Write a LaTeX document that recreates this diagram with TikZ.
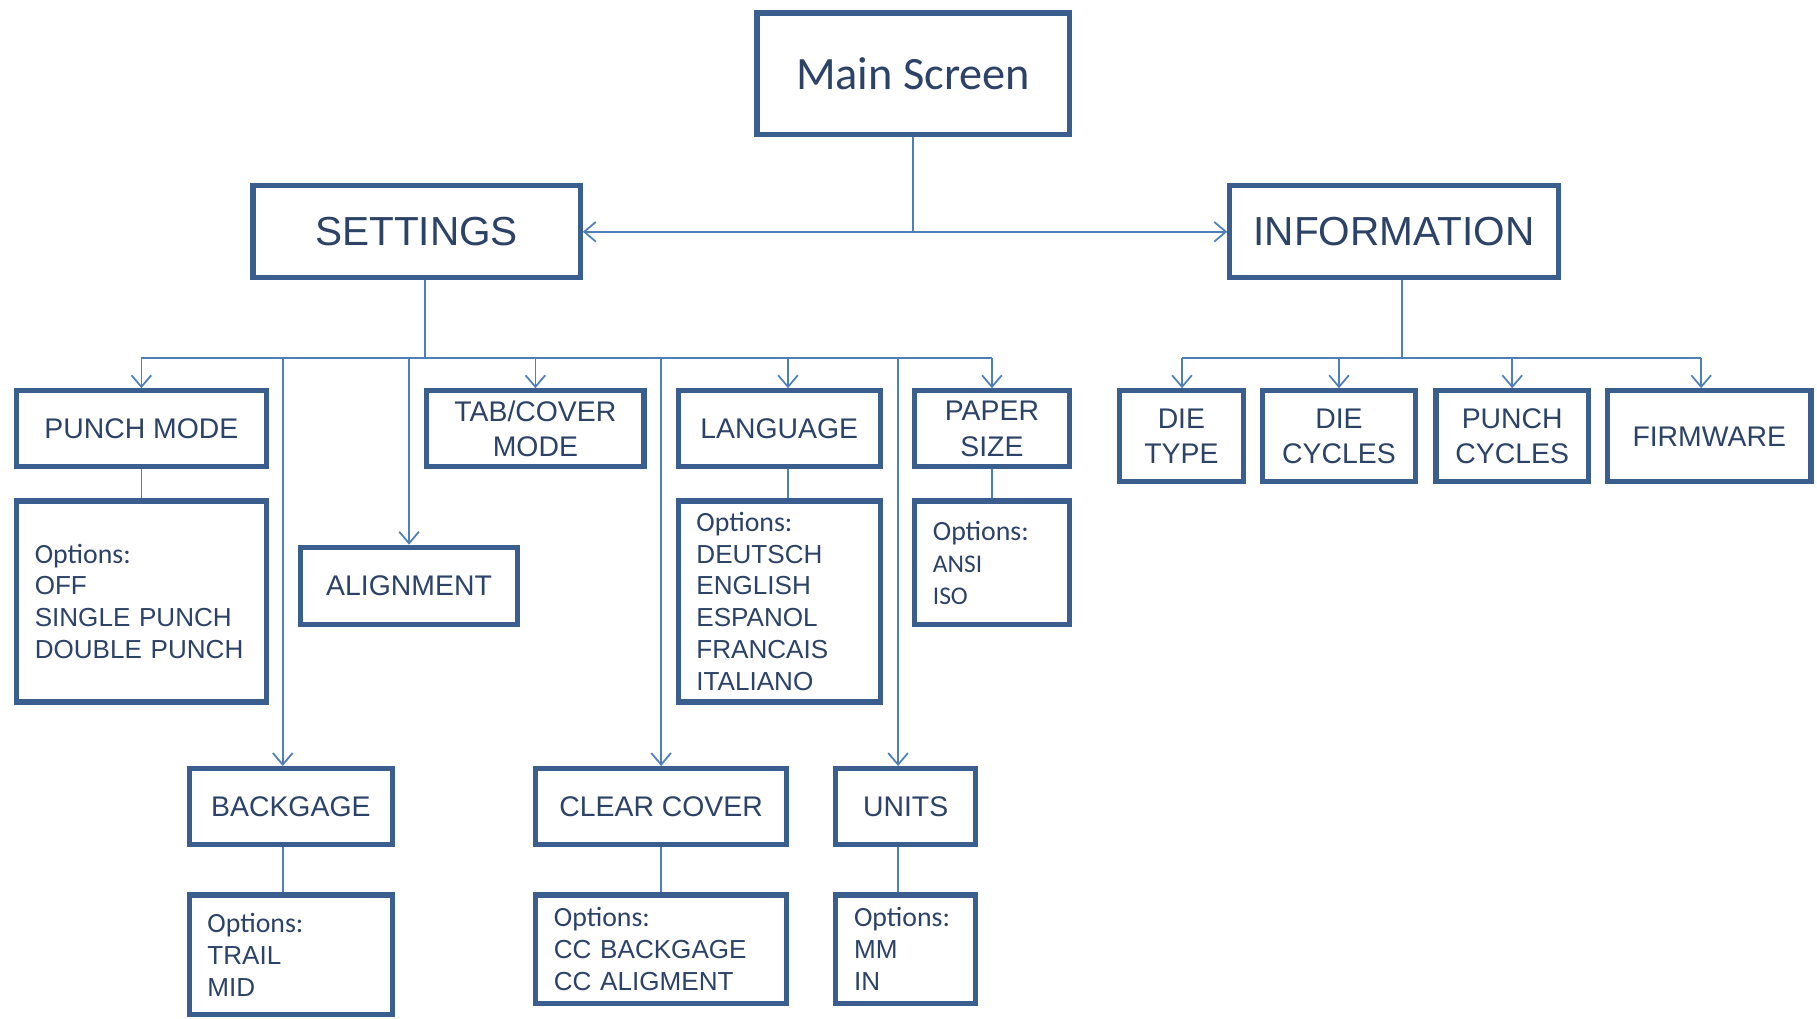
\documentclass[tikz,border=0pt]{standalone}
\usepackage{fontspec}
\setmainfont{Liberation Sans}
\newfontfamily\calib{Carlito}
\usetikzlibrary{arrows.meta}
\definecolor{boxc}{HTML}{3A5F8E}
\definecolor{linec}{HTML}{4F7FB8}
\definecolor{txtc}{HTML}{2C4266}
\tikzset{
  box/.style={draw=boxc, line width=4.5pt, text=txtc, inner sep=0pt, align=center,
    font=\fontsize{24.5}{30.5}\selectfont},
  bigbox/.style={box, font=\fontsize{35}{40}\selectfont},
  optbox/.style={box, align=left, inner xsep=15.75pt, font=\fontsize{22.5}{27.5}\selectfont},
  conn/.style={draw=linec, line width=1.5pt},
  arr/.style={conn, -{Straight Barb[length=10pt,width=17pt]}},
  dblarr/.style={conn, {Straight Barb[length=10pt,width=17pt]}-{Straight Barb[length=10pt,width=17pt]}},
}
\newcommand{\opt}{{\calib\fontsize{24}{27.5}\selectfont Options:}}
\begin{document}
\begin{tikzpicture}[x=1pt,y=-1pt]
\fill[white] (0,0) rectangle (1568,879);
\useasboundingbox (0,0) rectangle (1568,879);

% top level
\node[box, minimum width=269.5pt, minimum height=104.5pt, font=\calib\fontsize{40}{44}\selectfont] (main) at (788,63.5) {Main Screen};
\node[bigbox, minimum width=282.5pt, minimum height=79.5pt] (settings) at (359.5,200) {SETTINGS};
\node[bigbox, minimum width=283.5pt, minimum height=79.5pt] (info) at (1203,200) {INFORMATION};

% settings row 1
\node[box, minimum width=215.5pt, minimum height=65.5pt] (punch) at (122,370) {PUNCH MODE};
\node[box, minimum width=187.5pt, minimum height=65.5pt] (tab) at (462,370) {TAB/COVER\\MODE};
\node[box, minimum width=174.5pt, minimum height=65.5pt] (lang) at (672.5,370) {LANGUAGE};
\node[box, minimum width=133.5pt, minimum height=65.5pt] (paper) at (856,370) {PAPER\\SIZE};

% options row
\node[optbox, text width=184pt, minimum height=173.5pt] (punchopt) at (122,519)
  {\opt\\OFF\\SINGLE PUNCH\\DOUBLE PUNCH};
\node[box, minimum width=187.5pt, minimum height=66.5pt] (align) at (353,505.5) {ALIGNMENT};
\node[optbox, text width=143pt, minimum height=173.5pt] (langopt) at (672.5,519)
  {\opt\\DEUTSCH\\ENGLISH\\ESPANOL\\FRANCAIS\\ITALIANO};
\node[optbox, text width=102pt, minimum height=106.5pt] (paperopt) at (856,485.5)
  {\opt\\{\calib\fontsize{22}{27.5}\selectfont ANSI}\\{\calib\fontsize{22}{27.5}\selectfont ISO}};

% lower row
\node[box, minimum width=175.5pt, minimum height=65.5pt] (back) at (251,696) {BACKGAGE};
\node[box, minimum width=216.5pt, minimum height=65.5pt] (clear) at (570.5,696) {CLEAR COVER};
\node[box, minimum width=120.5pt, minimum height=65.5pt] (units) at (781.5,696) {UNITS};

\node[optbox, text width=144pt, minimum height=103.5pt] (backopt) at (251,824)
  {\opt\\TRAIL\\MID};
\node[optbox, text width=185pt, minimum height=93.5pt] (clearopt) at (570.5,819)
  {\opt\\CC BACKGAGE\\CC ALIGMENT};
\node[optbox, text width=89pt, minimum height=93.5pt] (unitsopt) at (781.5,819)
  {\opt\\MM\\IN};

% information children
\node[box, minimum width=106.5pt, minimum height=78.5pt] (dietype) at (1019.5,376.5) {DIE\\TYPE};
\node[box, minimum width=132.5pt, minimum height=78.5pt] (diecyc) at (1155.5,376.5) {DIE\\CYCLES};
\node[box, minimum width=131.5pt, minimum height=78.5pt] (punchcyc) at (1305,376.5) {PUNCH\\CYCLES};
\node[box, minimum width=175.5pt, minimum height=78.5pt] (firm) at (1475,376.5) {FIRMWARE};

% main connectors
\draw[conn] (main.south) -- (main.south |- settings.east);
\draw[dblarr] (settings.east) -- (info.west);

% settings bus
\coordinate (sbus) at (367,309);
\coordinate (busL) at (122,309);
\coordinate (busR) at (856,309);
\coordinate (dBack) at (244,309);
\coordinate (dLang) at (680,309);
\coordinate (dUnits) at (775,309);
\draw[conn] (settings.south -| sbus) -- (sbus);
\draw[conn] (busL) -- (busR);
\draw[arr] (busL) -- (punch.north);
\draw[arr] (dBack) -- (dBack |- back.north);
\draw[arr] (align.north |- busL) -- (align.north);
\draw[arr] (tab.north |- busL) -- (tab.north);
\draw[arr] (clear.north |- busL) -- (clear.north);
\draw[arr] (dLang) -- (dLang |- lang.north);
\draw[arr] (dUnits) -- (dUnits |- units.north);
\draw[arr] (busR) -- (paper.north);

% option links
\draw[conn] (punch.south) -- (punchopt.north);
\draw[conn] (dLang |- lang.south) -- (dLang |- langopt.north);
\draw[conn] (paper.south) -- (paperopt.north);
\draw[conn] (dBack |- back.south) -- (dBack |- backopt.north);
\draw[conn] (clear.south) -- (clearopt.north);
\draw[conn] (dUnits |- units.south) -- (dUnits |- unitsopt.north);

% information bus
\coordinate (ibus) at (1210,309);
\coordinate (ibusL) at (1020,309);
\coordinate (ibusR) at (1468,309);
\draw[conn] (info.south -| ibus) -- (ibus);
\draw[conn] (ibusL) -- (ibusR);
\draw[arr] (ibusL) -- (ibusL |- dietype.north);
\draw[arr] (diecyc.north |- ibusL) -- (diecyc.north);
\draw[arr] (punchcyc.north |- ibusL) -- (punchcyc.north);
\draw[arr] (ibusR) -- (ibusR |- firm.north);
\end{tikzpicture}
\end{document}
